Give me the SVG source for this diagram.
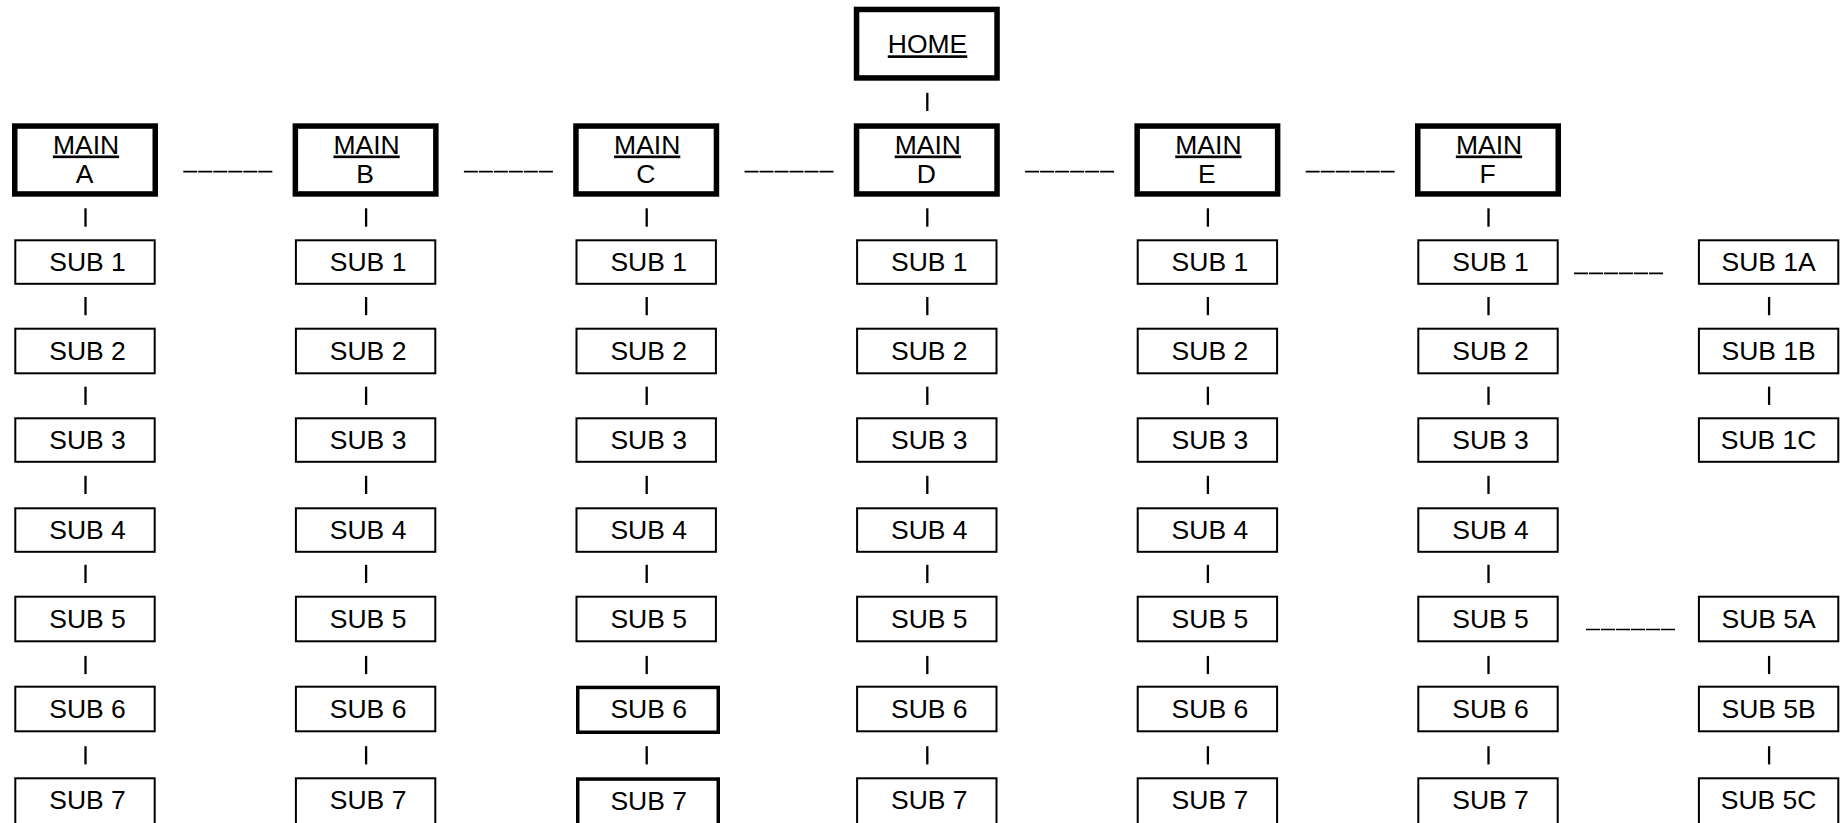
<svg xmlns="http://www.w3.org/2000/svg" width="1843" height="823" viewBox="0 0 1843 823">
<style>
.bg{fill:#ffffff}
.thick{fill:#ffffff;stroke:#000;stroke-width:5.5}
.thin{fill:#ffffff;stroke:#000;stroke-width:2}
.mid{fill:#ffffff;stroke:#000;stroke-width:3.5}
.t{font-family:"Liberation Sans",Arial,sans-serif;font-size:26.5px;fill:#000;text-anchor:middle}
.u{text-decoration:underline}
.v{stroke:#000;stroke-width:2.3}
.h{stroke:#000;stroke-width:1.7;stroke-dasharray:14 1}
</style>
<rect class="bg" x="0" y="0" width="1843" height="823"/>
<g id="connectors">
<line class="v" x1="927.3" y1="92.8" x2="927.3" y2="111"/>
<!-- main horizontals -->
<line class="h" x1="183.3" y1="171.7" x2="273.3" y2="171.7"/>
<line class="h" x1="463.9" y1="171.7" x2="553.9" y2="171.7"/>
<line class="h" x1="744.5" y1="171.7" x2="834.5" y2="171.7"/>
<line class="h" x1="1025.1" y1="171.7" x2="1115.1" y2="171.7"/>
<line class="h" x1="1305.7" y1="171.7" x2="1395.7" y2="171.7"/>
<line class="h" x1="1574" y1="273.3" x2="1663.3" y2="273.3"/>
<line class="h" x1="1586" y1="629.5" x2="1675.7" y2="629.5"/>
<!-- verticals col A -->
<g id="vA">
<line class="v" x1="85.5" y1="208.3" x2="85.5" y2="226.7"/>
<line class="v" x1="85.5" y1="297" x2="85.5" y2="315.2"/>
<line class="v" x1="85.5" y1="386.7" x2="85.5" y2="404.9"/>
<line class="v" x1="85.5" y1="475.8" x2="85.5" y2="494"/>
<line class="v" x1="85.5" y1="564.8" x2="85.5" y2="583"/>
<line class="v" x1="85.5" y1="655.9" x2="85.5" y2="674.1"/>
<line class="v" x1="85.5" y1="746.2" x2="85.5" y2="764.4"/>
</g>
<g id="vB">
<line class="v" x1="366.1" y1="208.3" x2="366.1" y2="226.7"/>
<line class="v" x1="366.1" y1="297" x2="366.1" y2="315.2"/>
<line class="v" x1="366.1" y1="386.7" x2="366.1" y2="404.9"/>
<line class="v" x1="366.1" y1="475.8" x2="366.1" y2="494"/>
<line class="v" x1="366.1" y1="564.8" x2="366.1" y2="583"/>
<line class="v" x1="366.1" y1="655.9" x2="366.1" y2="674.1"/>
<line class="v" x1="366.1" y1="746.2" x2="366.1" y2="764.4"/>
</g>
<g id="vC">
<line class="v" x1="646.7" y1="208.3" x2="646.7" y2="226.7"/>
<line class="v" x1="646.7" y1="297" x2="646.7" y2="315.2"/>
<line class="v" x1="646.7" y1="386.7" x2="646.7" y2="404.9"/>
<line class="v" x1="646.7" y1="475.8" x2="646.7" y2="494"/>
<line class="v" x1="646.7" y1="564.8" x2="646.7" y2="583"/>
<line class="v" x1="646.7" y1="655.9" x2="646.7" y2="674.1"/>
<line class="v" x1="646.7" y1="746.2" x2="646.7" y2="764.4"/>
</g>
<g id="vD">
<line class="v" x1="927.3" y1="208.3" x2="927.3" y2="226.7"/>
<line class="v" x1="927.3" y1="297" x2="927.3" y2="315.2"/>
<line class="v" x1="927.3" y1="386.7" x2="927.3" y2="404.9"/>
<line class="v" x1="927.3" y1="475.8" x2="927.3" y2="494"/>
<line class="v" x1="927.3" y1="564.8" x2="927.3" y2="583"/>
<line class="v" x1="927.3" y1="655.9" x2="927.3" y2="674.1"/>
<line class="v" x1="927.3" y1="746.2" x2="927.3" y2="764.4"/>
</g>
<g id="vE">
<line class="v" x1="1207.9" y1="208.3" x2="1207.9" y2="226.7"/>
<line class="v" x1="1207.9" y1="297" x2="1207.9" y2="315.2"/>
<line class="v" x1="1207.9" y1="386.7" x2="1207.9" y2="404.9"/>
<line class="v" x1="1207.9" y1="475.8" x2="1207.9" y2="494"/>
<line class="v" x1="1207.9" y1="564.8" x2="1207.9" y2="583"/>
<line class="v" x1="1207.9" y1="655.9" x2="1207.9" y2="674.1"/>
<line class="v" x1="1207.9" y1="746.2" x2="1207.9" y2="764.4"/>
</g>
<g id="vF">
<line class="v" x1="1488.5" y1="208.3" x2="1488.5" y2="226.7"/>
<line class="v" x1="1488.5" y1="297" x2="1488.5" y2="315.2"/>
<line class="v" x1="1488.5" y1="386.7" x2="1488.5" y2="404.9"/>
<line class="v" x1="1488.5" y1="475.8" x2="1488.5" y2="494"/>
<line class="v" x1="1488.5" y1="564.8" x2="1488.5" y2="583"/>
<line class="v" x1="1488.5" y1="655.9" x2="1488.5" y2="674.1"/>
<line class="v" x1="1488.5" y1="746.2" x2="1488.5" y2="764.4"/>
</g>
<g id="vG">
<line class="v" x1="1769.1" y1="297" x2="1769.1" y2="315.2"/>
<line class="v" x1="1769.1" y1="386.7" x2="1769.1" y2="404.9"/>
<line class="v" x1="1769.1" y1="655.9" x2="1769.1" y2="674.1"/>
<line class="v" x1="1769.1" y1="746.2" x2="1769.1" y2="764.4"/>
</g>
</g>

<g id="home"><rect class="thick" x="856.55" y="9.45" width="140.5" height="68.5"/><text class="t u" x="927.5" y="53.3">HOME</text></g>

<g id="mainA"><rect class="thick" x="14.75" y="126.05" width="140.5" height="67.9"/><text class="t u" x="86" y="153.5">MAIN</text><text class="t" x="84.5" y="182.7">A</text></g>
<g id="mainB"><rect class="thick" x="295.35" y="126.05" width="140.5" height="67.9"/><text class="t u" x="366.6" y="153.5">MAIN</text><text class="t" x="365.1" y="182.7">B</text></g>
<g id="mainC"><rect class="thick" x="575.95" y="126.05" width="140.5" height="67.9"/><text class="t u" x="647.2" y="153.5">MAIN</text><text class="t" x="645.7" y="182.7">C</text></g>
<g id="mainD"><rect class="thick" x="856.55" y="126.05" width="140.5" height="67.9"/><text class="t u" x="927.8" y="153.5">MAIN</text><text class="t" x="926.3" y="182.7">D</text></g>
<g id="mainE"><rect class="thick" x="1137.15" y="126.05" width="140.5" height="67.9"/><text class="t u" x="1208.4" y="153.5">MAIN</text><text class="t" x="1206.9" y="182.7">E</text></g>
<g id="mainF"><rect class="thick" x="1417.75" y="126.05" width="140.5" height="67.9"/><text class="t u" x="1489" y="153.5">MAIN</text><text class="t" x="1487.5" y="182.7">F</text></g>

<!-- column A subs -->
<g id="a1"><rect class="thin" x="15.3" y="240.3" width="139.4" height="43.5"/><text class="t" x="87.5" y="271.4">SUB 1</text></g>
<g id="a2"><rect class="thin" x="15.3" y="328.7" width="139.4" height="44.6"/><text class="t" x="87.5" y="359.8">SUB 2</text></g>
<g id="a3"><rect class="thin" x="15.3" y="418.3" width="139.4" height="43.5"/><text class="t" x="87.5" y="449.4">SUB 3</text></g>
<g id="a4"><rect class="thin" x="15.3" y="508.3" width="139.4" height="43.5"/><text class="t" x="87.5" y="539.4">SUB 4</text></g>
<g id="a5"><rect class="thin" x="15.3" y="596.7" width="139.4" height="44.6"/><text class="t" x="87.5" y="627.8">SUB 5</text></g>
<g id="a6"><rect class="thin" x="15.3" y="686.7" width="139.4" height="44.6"/><text class="t" x="87.5" y="717.8">SUB 6</text></g>
<g id="a7"><rect class="thin" x="15.3" y="778.3" width="139.4" height="46"/><text class="t" x="87.5" y="809.4">SUB 7</text></g>

<g id="b1"><rect class="thin" x="295.9" y="240.3" width="139.4" height="43.5"/><text class="t" x="368.1" y="271.4">SUB 1</text></g>
<g id="b2"><rect class="thin" x="295.9" y="328.7" width="139.4" height="44.6"/><text class="t" x="368.1" y="359.8">SUB 2</text></g>
<g id="b3"><rect class="thin" x="295.9" y="418.3" width="139.4" height="43.5"/><text class="t" x="368.1" y="449.4">SUB 3</text></g>
<g id="b4"><rect class="thin" x="295.9" y="508.3" width="139.4" height="43.5"/><text class="t" x="368.1" y="539.4">SUB 4</text></g>
<g id="b5"><rect class="thin" x="295.9" y="596.7" width="139.4" height="44.6"/><text class="t" x="368.1" y="627.8">SUB 5</text></g>
<g id="b6"><rect class="thin" x="295.9" y="686.7" width="139.4" height="44.6"/><text class="t" x="368.1" y="717.8">SUB 6</text></g>
<g id="b7"><rect class="thin" x="295.9" y="778.3" width="139.4" height="46"/><text class="t" x="368.1" y="809.4">SUB 7</text></g>

<g id="c1"><rect class="thin" x="576.5" y="240.3" width="139.4" height="43.5"/><text class="t" x="648.7" y="271.4">SUB 1</text></g>
<g id="c2"><rect class="thin" x="576.5" y="328.7" width="139.4" height="44.6"/><text class="t" x="648.7" y="359.8">SUB 2</text></g>
<g id="c3"><rect class="thin" x="576.5" y="418.3" width="139.4" height="43.5"/><text class="t" x="648.7" y="449.4">SUB 3</text></g>
<g id="c4"><rect class="thin" x="576.5" y="508.3" width="139.4" height="43.5"/><text class="t" x="648.7" y="539.4">SUB 4</text></g>
<g id="c5"><rect class="thin" x="576.5" y="596.7" width="139.4" height="44.6"/><text class="t" x="648.7" y="627.8">SUB 5</text></g>
<g id="c6"><rect class="mid" x="577.75" y="687.45" width="140.5" height="44.8"/><text class="t" x="648.7" y="718.3">SUB 6</text></g>
<g id="c7"><rect class="mid" x="577.75" y="779.05" width="140.5" height="46"/><text class="t" x="648.7" y="810">SUB 7</text></g>

<g id="d1"><rect class="thin" x="857.1" y="240.3" width="139.4" height="43.5"/><text class="t" x="929.3" y="271.4">SUB 1</text></g>
<g id="d2"><rect class="thin" x="857.1" y="328.7" width="139.4" height="44.6"/><text class="t" x="929.3" y="359.8">SUB 2</text></g>
<g id="d3"><rect class="thin" x="857.1" y="418.3" width="139.4" height="43.5"/><text class="t" x="929.3" y="449.4">SUB 3</text></g>
<g id="d4"><rect class="thin" x="857.1" y="508.3" width="139.4" height="43.5"/><text class="t" x="929.3" y="539.4">SUB 4</text></g>
<g id="d5"><rect class="thin" x="857.1" y="596.7" width="139.4" height="44.6"/><text class="t" x="929.3" y="627.8">SUB 5</text></g>
<g id="d6"><rect class="thin" x="857.1" y="686.7" width="139.4" height="44.6"/><text class="t" x="929.3" y="717.8">SUB 6</text></g>
<g id="d7"><rect class="thin" x="857.1" y="778.3" width="139.4" height="46"/><text class="t" x="929.3" y="809.4">SUB 7</text></g>

<g id="e1"><rect class="thin" x="1137.7" y="240.3" width="139.4" height="43.5"/><text class="t" x="1209.9" y="271.4">SUB 1</text></g>
<g id="e2"><rect class="thin" x="1137.7" y="328.7" width="139.4" height="44.6"/><text class="t" x="1209.9" y="359.8">SUB 2</text></g>
<g id="e3"><rect class="thin" x="1137.7" y="418.3" width="139.4" height="43.5"/><text class="t" x="1209.9" y="449.4">SUB 3</text></g>
<g id="e4"><rect class="thin" x="1137.7" y="508.3" width="139.4" height="43.5"/><text class="t" x="1209.9" y="539.4">SUB 4</text></g>
<g id="e5"><rect class="thin" x="1137.7" y="596.7" width="139.4" height="44.6"/><text class="t" x="1209.9" y="627.8">SUB 5</text></g>
<g id="e6"><rect class="thin" x="1137.7" y="686.7" width="139.4" height="44.6"/><text class="t" x="1209.9" y="717.8">SUB 6</text></g>
<g id="e7"><rect class="thin" x="1137.7" y="778.3" width="139.4" height="46"/><text class="t" x="1209.9" y="809.4">SUB 7</text></g>

<g id="f1"><rect class="thin" x="1418.3" y="240.3" width="139.4" height="43.5"/><text class="t" x="1490.5" y="271.4">SUB 1</text></g>
<g id="f2"><rect class="thin" x="1418.3" y="328.7" width="139.4" height="44.6"/><text class="t" x="1490.5" y="359.8">SUB 2</text></g>
<g id="f3"><rect class="thin" x="1418.3" y="418.3" width="139.4" height="43.5"/><text class="t" x="1490.5" y="449.4">SUB 3</text></g>
<g id="f4"><rect class="thin" x="1418.3" y="508.3" width="139.4" height="43.5"/><text class="t" x="1490.5" y="539.4">SUB 4</text></g>
<g id="f5"><rect class="thin" x="1418.3" y="596.7" width="139.4" height="44.6"/><text class="t" x="1490.5" y="627.8">SUB 5</text></g>
<g id="f6"><rect class="thin" x="1418.3" y="686.7" width="139.4" height="44.6"/><text class="t" x="1490.5" y="717.8">SUB 6</text></g>
<g id="f7"><rect class="thin" x="1418.3" y="778.3" width="139.4" height="46"/><text class="t" x="1490.5" y="809.4">SUB 7</text></g>

<g id="s1a"><rect class="thin" x="1698.9" y="240.3" width="139.4" height="43.5"/><text class="t" x="1768.6" y="271.4">SUB 1A</text></g>
<g id="s1b"><rect class="thin" x="1698.9" y="328.7" width="139.4" height="44.6"/><text class="t" x="1768.6" y="359.8">SUB 1B</text></g>
<g id="s1c"><rect class="thin" x="1698.9" y="418.3" width="139.4" height="43.5"/><text class="t" x="1768.6" y="449.4">SUB 1C</text></g>
<g id="s5a"><rect class="thin" x="1698.9" y="596.7" width="139.4" height="44.6"/><text class="t" x="1768.6" y="627.8">SUB 5A</text></g>
<g id="s5b"><rect class="thin" x="1698.9" y="686.7" width="139.4" height="44.6"/><text class="t" x="1768.6" y="717.8">SUB 5B</text></g>
<g id="s5c"><rect class="thin" x="1698.9" y="778.3" width="139.4" height="46"/><text class="t" x="1768.6" y="809.4">SUB 5C</text></g>
</svg>
